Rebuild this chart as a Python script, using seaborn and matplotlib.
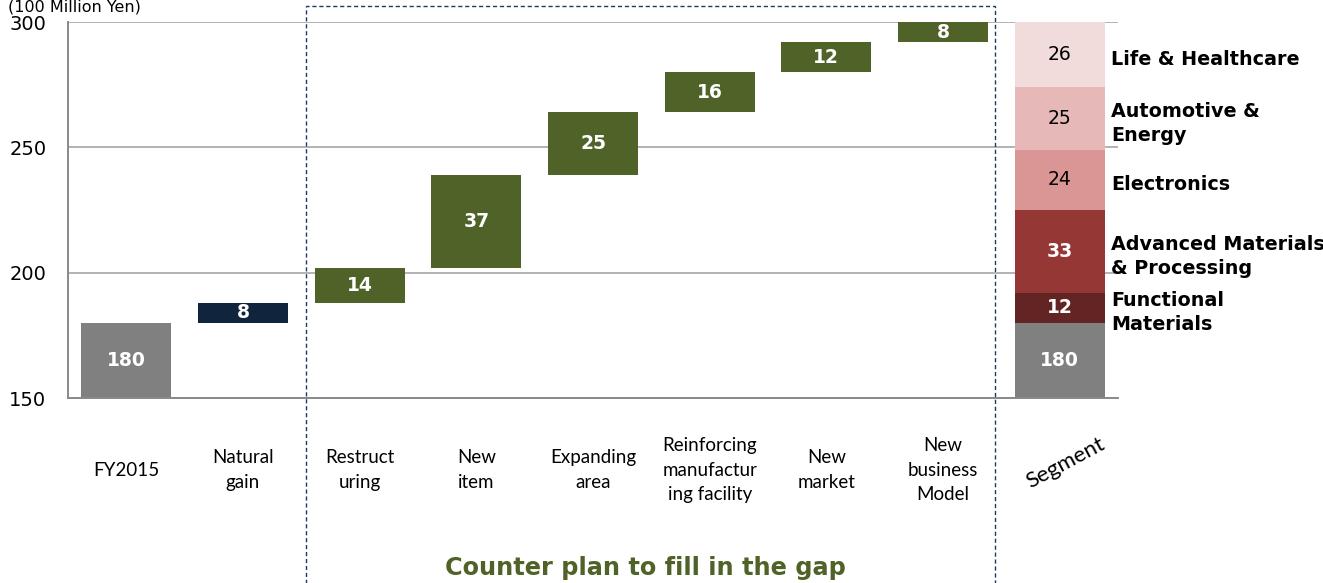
import matplotlib
matplotlib.use("Agg")
import matplotlib.pyplot as plt
import seaborn as sns
import pandas as pd
from matplotlib.patches import Rectangle
from matplotlib.transforms import blended_transform_factory

# ---------------- data ----------------
cat_keys = ["FY2015", "Natural gain", "Restructuring", "New item", "Expanding area",
            "Reinforcing manufacturing facility", "New market", "New business Model", "Segment"]
tick_labels = ["FY2015", "Natural\ngain", "Restruct\nuring", "New\nitem", "Expanding\narea",
               "Reinforcing\nmanufactur\ning facility", "New\nmarket", "New\nbusiness\nModel", "Segment"]
base_value = 180
step_values = [8, 14, 37, 25, 16, 12, 8]   # natural gain + six counter plans
segment_names = ["Functional\nMaterials", "Advanced Materials\n& Processing", "Electronics",
                 "Automotive &\nEnergy", "Life & Healthcare"]
segment_values = [12, 33, 24, 25, 26]
y_ticks = [150, 200, 250, 300]

# ---------------- style ----------------
GRAY = "#808080"
NAVY = "#10243E"
GREEN = "#4F6228"
SEG_COLORS = ["#632523", "#953735", "#D99694", "#E6B9B8", "#F2DCDB"]
SEG_TEXT = ["white", "white", "black", "black", "black"]
SEG_BOLD = [True, True, False, False, False]

sns.set_style("white")
plt.rcParams["font.family"] = ["DejaVu Sans"]
plt.rcParams["text.color"] = "black"
plt.rcParams["xtick.labelcolor"] = "black"
plt.rcParams["ytick.labelcolor"] = "black"

y_min = y_ticks[0]

# build rows of floating bars
rows = []
rows.append(dict(cat=cat_keys[0], bottom=0, height=base_value, color=GRAY,
                 label=str(base_value), tcolor="white", bold=True,
                 ymid=(y_min + base_value) / 2))
cum = base_value
for i, v in enumerate(step_values):
    rows.append(dict(cat=cat_keys[i + 1], bottom=cum, height=v,
                     color=NAVY if i == 0 else GREEN, label=str(v),
                     tcolor="white", bold=True, ymid=cum + v / 2))
    cum += v
rows.append(dict(cat=cat_keys[-1], bottom=0, height=base_value, color=GRAY,
                 label=str(base_value), tcolor="white", bold=True,
                 ymid=(y_min + base_value) / 2))
cum = base_value
for v, c, tc, b in zip(segment_values, SEG_COLORS, SEG_TEXT, SEG_BOLD):
    rows.append(dict(cat=cat_keys[-1], bottom=cum, height=v, color=c, label=str(v),
                     tcolor=tc, bold=b, ymid=cum + v / 2))
    cum += v
bars = pd.DataFrame(rows)

fig = plt.figure(figsize=(13.23, 5.83), dpi=100)
W, H = 1323, 583
ax = fig.add_axes([68 / W, 1 - 398 / H, 1050 / W, 376 / H])

for _, r in bars.iterrows():
    sns.barplot(x=[r["cat"]], y=[r["height"]], order=cat_keys, bottom=r["bottom"],
                color=r["color"], saturation=1, width=0.771, linewidth=0, ax=ax, zorder=2)

ax.set_xlim(-0.5, 8.5)
ax.set_ylim(150, 300)
ax.set_yticks(y_ticks)
ax.yaxis.grid(True, color="#A6A6A6", lw=1.2, zorder=0)
ax.set_axisbelow(True)
for s in ["top", "right"]:
    ax.spines[s].set_visible(False)
for s in ["left", "bottom"]:
    ax.spines[s].set_color("#898989")
    ax.spines[s].set_linewidth(1.4)
ax.set_xlabel("")
ax.set_ylabel("")

# bar value labels
for _, r in bars.iterrows():
    x = cat_keys.index(r["cat"])
    ax.text(x, r["ymid"], r["label"], ha="center", va="center", color=r["tcolor"],
            fontsize=13.5, fontweight="bold" if r["bold"] else "normal", zorder=3)

# y ticks
ax.tick_params(axis="y", length=4.5, width=1.2, color="#898989", labelsize=14, pad=11,
               labelcolor="black")

# x ticks: labels centered, tick marks between categories
ax.set_xticks(range(len(cat_keys)))
ax.set_xticklabels(tick_labels[:-1] + [""], fontfamily="Lato", fontsize=13.5, va="center",
                   linespacing=1.55, color="black")
ax.set_xticks([i - 0.5 for i in range(len(cat_keys) + 1)], minor=True)
ax.tick_params(axis="x", which="major", length=0, pad=52)
ax.tick_params(axis="x", which="minor", length=4.5, width=1.2, color="#898989")

# rotated "Segment" category label
trans = blended_transform_factory(ax.transData, ax.transAxes)
ax.text(len(cat_keys) - 1 + 0.05, -0.173, tick_labels[-1], transform=trans, rotation=28,
        ha="center", va="center", fontfamily="Lato", fontsize=16, color="black",
        clip_on=False)

# segment names
cum = base_value
for name, v in zip(segment_names, segment_values):
    ax.text(8.44, cum + v / 2 - 2, name, ha="left", va="center", fontsize=13.8,
            fontweight="bold", linespacing=1.35, clip_on=False, color="black")
    cum += v

# unit label
fig.text(8 / W, 1 - 11.5 / H, "(100 Million Yen)", ha="left", va="baseline", fontsize=11.5,
         color="black")

# dashed box around counter plans
rect = Rectangle((306 / W, -0.1), (995 - 306) / W, 1.1 - 6 / H, transform=fig.transFigure,
                 fill=False, edgecolor="#1F3864", lw=1.0, ls=(0, (3, 2)), clip_on=False)
fig.add_artist(rect)

fig.text(645 / W, 1 - 568 / H, "Counter plan to fill in the gap", ha="center", va="center",
         fontweight="bold", fontsize=17.3, color=GREEN)

fig.savefig("out.png", dpi=100)
